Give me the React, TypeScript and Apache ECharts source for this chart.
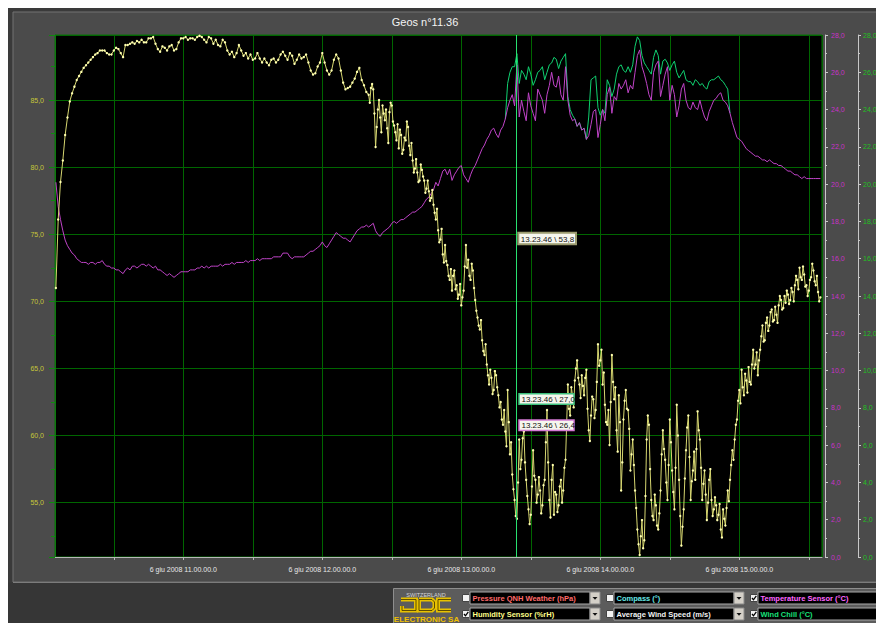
import React, { useEffect, useRef } from 'react';
import * as echarts from 'echarts';

// Minutes are counted from 10:00 on 6 June 2008
// Humidity Sensor (%rH) – left axis. First part sampled every minute from minute 5,
// second (noisier) part sampled every half minute from minute 140.
const humidityEarlyStartMinute = 5;
const humidityEarlyStepMinutes = 1;
const humidityEarly = [
  71.0, 76.1, 78.9, 80.5, 82.4,
  83.7, 84.9, 85.5, 86.0, 86.5,
  86.8, 87.1, 87.4, 87.6, 87.8,
  88.0, 88.2, 88.4, 88.5, 88.7,
  88.7, 88.7, 88.5, 88.4, 88.4,
  88.7, 88.9, 88.8, 88.5, 88.2,
  89.1, 89.1, 89.2, 89.3, 89.2,
  89.4, 89.3, 89.5, 89.3, 89.3,
  89.6, 89.6, 89.7, 89.2, 88.8,
  88.6, 89.0, 88.9, 88.7, 89.0,
  89.1, 88.7, 88.8, 89.3, 89.6,
  89.6, 89.7, 89.5, 89.6, 89.6,
  89.5, 89.7, 89.8, 89.7, 89.5,
  89.3, 89.7, 89.6, 89.2, 89.5,
  89.1, 89.0, 89.5, 89.3, 88.7,
  88.4, 88.6, 88.2, 88.5, 89.1,
  88.7, 88.3, 88.5, 88.1, 88.4,
  88.0, 88.1, 88.5, 88.1, 87.8,
  88.1, 87.8, 87.6, 88.0, 88.1,
  87.8, 88.0, 88.4, 88.6, 88.3,
  88.0, 88.5, 88.3, 87.7, 88.0,
  88.4, 88.1, 88.2, 88.4, 87.8,
  87.2, 86.9, 87.0, 87.5, 87.8,
  88.5, 87.8, 87.2, 86.9, 87.2,
  88.0, 88.4, 88.1, 87.2, 86.3,
  85.8, 85.9, 86.0, 86.3, 86.6,
  87.1, 87.4, 86.5, 86.1, 85.6,
];
const humidityLateStartMinute = 140;
const humidityLateStepMinutes = 0.5;
const humidityLate = [
  85.4, 84.8, 85.9, 86.2, 85.8, 84.0, 81.5, 83.0, 84.3, 85.0,
  83.7, 82.6, 84.6, 84.0, 83.5, 84.3, 82.9, 81.8, 84.1, 84.8,
  84.6, 83.4, 83.1, 82.6, 82.0, 83.2, 81.4, 82.8, 82.4, 81.0,
  81.3, 82.2, 82.0, 83.4, 83.0, 81.6, 80.9, 81.8, 80.5, 79.6,
  79.9, 80.6, 79.6, 78.9, 79.0, 80.2, 79.8, 79.3, 79.0, 78.1,
  78.4, 79.0, 78.2, 77.5, 77.7, 78.3, 77.2, 76.6, 76.1, 76.9,
  75.3, 74.4, 74.6, 75.4, 73.5, 72.9, 74.2, 73.0, 72.7, 71.9,
  71.6, 72.4, 70.8, 71.9, 72.3, 70.9, 71.2, 70.2, 70.5, 71.3,
  69.7, 70.3, 70.8, 72.6, 74.2, 72.5, 73.1, 71.9, 71.6, 72.8,
  72.3, 71.0, 70.1, 69.3, 68.8, 68.2, 67.9, 68.6, 67.1, 66.3,
  66.0, 66.8, 65.3, 64.5, 63.8, 64.9, 64.3, 63.1, 63.4, 64.8,
  64.5, 63.6, 63.0, 62.1, 62.5, 61.2, 60.8, 61.9, 60.3, 59.2,
  63.4, 61.0, 58.6, 59.5, 57.1, 56.0, 55.2, 54.0, 53.8, 56.5,
  59.7, 57.5, 58.2, 59.8, 60.3, 58.0, 56.7, 55.5, 54.5, 53.4,
  54.1, 56.2, 58.9, 57.0, 56.7, 55.0, 55.6, 56.9, 55.9, 54.2,
  54.8, 56.3, 56.7, 59.5, 61.9, 58.0, 55.2, 53.9, 56.7, 57.8,
  54.1, 55.8, 55.6, 54.3, 54.8, 56.2, 56.7, 55.0, 55.9, 57.6,
  58.2, 61.0, 63.8, 62.0, 61.5, 63.6, 63.0, 62.1, 64.1, 65.0,
  65.6, 64.3, 63.8, 62.8, 64.5, 63.7, 63.0, 64.3, 64.9, 62.0,
  60.4, 59.6, 61.5, 62.9, 62.7, 61.3, 61.9, 64.0, 66.8, 65.2,
  65.6, 66.4, 63.8, 64.7, 62.3, 61.0, 60.8, 61.9, 59.3, 62.5,
  66.0, 64.0, 62.7, 63.6, 60.4, 58.8, 63.0, 61.0, 55.9, 58.0,
  61.2, 62.6, 63.4, 62.0, 61.9, 60.5, 57.4, 58.6, 59.7, 57.8,
  55.9, 54.6, 53.0, 51.9, 51.1, 52.5, 53.7, 51.6, 52.2, 55.5,
  59.7, 61.5, 60.8, 57.5, 55.2, 54.0, 53.7, 55.6, 54.8, 53.3,
  53.0, 54.2, 55.9, 58.6, 60.4, 59.0, 58.2, 56.5, 55.2, 57.8,
  61.2, 59.5, 57.4, 55.8, 54.5, 57.6, 62.3, 60.0, 56.7, 54.0,
  51.8, 53.2, 54.5, 56.8, 58.9, 60.6, 61.5, 58.4, 55.2, 56.6,
  57.4, 58.8, 56.7, 59.0, 61.8, 60.4, 59.7, 57.6, 55.2, 56.4,
  57.4, 55.6, 53.7, 55.0, 56.7, 57.5, 55.2, 54.0, 54.5, 55.4,
  54.8, 53.7, 54.1, 54.9, 53.0, 52.4, 54.5, 53.8, 53.3, 54.6,
  55.9, 55.1, 56.7, 57.8, 58.9, 58.2, 59.7, 60.8, 61.2, 62.6,
  63.4, 62.4, 64.9, 63.6, 63.0, 64.6, 64.1, 63.2, 65.1, 64.0,
  63.8, 65.3, 66.4, 65.0, 65.3, 66.2, 64.5, 65.6, 66.4, 67.4,
  68.2, 67.0, 67.1, 68.4, 68.8, 67.8, 68.2, 69.2, 69.4, 68.5,
  68.6, 69.6, 69.0, 68.4, 69.7, 70.4, 70.1, 69.4, 69.5, 70.4,
  69.9, 70.8, 70.5, 69.8, 70.1, 71.0, 70.7, 70.0, 71.2, 71.9,
  71.6, 70.9, 72.5, 71.8, 71.6, 72.6, 72.0, 71.1, 71.2, 70.4,
  70.8, 71.6, 71.8, 72.8, 72.3, 71.5, 71.2, 71.9, 70.7, 70.0,
  70.3,
];

// Temperature Sensor (°C) – first right axis, one sample per minute from minute 5
const temperatureStartMinute = 5;
const temperatureStepMinutes = 1;
const temperature = [
  20.1, 18.8, 18.1, 17.5, 17.0,
  16.7, 16.5, 16.3, 16.2, 16.0,
  15.9, 15.8, 15.8, 15.8, 15.7,
  15.8, 15.8, 15.7, 15.8, 15.8,
  15.9, 15.7, 15.6, 15.6, 15.5,
  15.5, 15.4, 15.4, 15.3, 15.2,
  15.4, 15.5, 15.4, 15.6, 15.6,
  15.5, 15.6, 15.7, 15.7, 15.6,
  15.7, 15.6, 15.5, 15.6, 15.4,
  15.4, 15.3, 15.2, 15.1, 15.2,
  15.1, 15.0, 15.1, 15.2, 15.3,
  15.3, 15.3, 15.3, 15.4, 15.4,
  15.4, 15.5, 15.5, 15.6, 15.5,
  15.6, 15.5, 15.6, 15.6, 15.6,
  15.6, 15.7, 15.6, 15.7, 15.7,
  15.7, 15.8, 15.7, 15.8, 15.8,
  15.8, 15.8, 15.9, 15.8, 15.9,
  15.9, 15.9, 16.0, 15.9, 16.0,
  16.0, 16.0, 16.0, 16.0, 16.1,
  16.1, 16.1, 16.1, 16.3, 16.3,
  16.3, 16.1, 16.0, 16.1, 16.1,
  16.1, 16.1, 16.1, 16.2, 16.3,
  16.4, 16.4, 16.5, 16.6, 16.7,
  16.9, 16.7, 16.6, 16.8, 17.0,
  17.2, 17.4, 17.3, 17.2, 17.1,
  17.1, 17.0, 16.9, 17.1, 17.3,
  17.5, 17.6, 17.7, 17.7, 17.8,
  17.7, 17.8, 17.9, 17.5, 17.3,
  17.2, 17.4, 17.5, 17.6, 17.7,
  17.9, 18.0, 17.9, 18.0, 18.1,
  18.1, 18.2, 18.3, 18.4, 18.5,
  18.5, 18.6, 18.7, 18.8, 19.0,
  19.2, 19.3, 19.5, 19.7, 20.1,
  19.9, 20.3, 20.7, 20.8, 20.5,
  20.8, 20.2, 20.5, 20.7, 20.9,
  21.0, 20.5, 20.3, 20.1, 20.5,
  20.8, 21.0, 21.3, 21.6, 21.9,
  22.1, 22.4, 22.6, 22.9, 23.0,
  22.7, 22.5, 22.9, 23.1, 23.5,
  24.1, 24.5, 24.8, 24.2, 26.4,
  23.6, 24.5, 23.9, 23.4, 24.9,
  24.2, 23.8, 23.4, 25.1, 24.8,
  24.5, 23.8, 24.8, 25.3, 26.0,
  25.3, 25.2, 25.8, 24.8, 24.5,
  26.3, 24.5, 23.7, 23.4, 23.5,
  23.1, 23.3, 22.9, 23.0, 22.4,
  22.6, 23.2, 23.9, 24.0, 22.5,
  23.2, 24.0, 23.4, 24.8, 25.2,
  23.8, 24.7, 24.5, 25.4, 25.1,
  25.3, 25.6, 24.9, 25.3, 25.1,
  26.0, 26.9, 27.2, 26.3, 25.9,
  25.4, 24.8, 24.5, 26.0, 26.4,
  26.6, 24.7, 25.3, 25.9, 26.3,
  24.5, 25.3, 24.8, 23.6, 24.2,
  25.1, 25.4, 24.5, 24.1, 24.0,
  24.4, 24.1, 24.0, 24.5, 24.0,
  23.6, 23.4, 23.9, 24.2, 24.5,
  24.6, 24.8, 24.9, 24.5, 24.4,
  24.2, 23.8, 23.3, 22.9, 22.5,
  22.4, 22.3, 22.1, 21.9, 21.8,
  21.7, 21.6, 21.5, 21.5, 21.4,
  21.3, 21.3, 21.2, 21.3, 21.2,
  21.1, 21.1, 21.0, 21.0, 20.9,
  20.8, 20.7, 20.7, 20.6, 20.5,
  20.5, 20.4, 20.3, 20.4, 20.3,
  20.3, 20.3, 20.3, 20.3, 20.3,
  20.3,
];

// Wind Chill (°C) – second right axis, visible where it departs from the temperature
const windChillStartMinute = 199;
const windChillStepMinutes = 1;
const windChill = [
  23.5,
  25.4, 26.0, 26.3, 26.3, 27.0,
  25.4, 26.1, 25.9, 25.6, 26.3,
  25.9, 25.3, 25.6, 26.0, 26.1,
  26.3, 25.6, 26.0, 26.4, 26.5,
  26.8, 26.7, 26.2, 26.6, 26.8,
  27.0, 24.7, 24.0, 23.7, 23.5,
  23.1, 23.3, 22.9, 23.0, 22.4,
  23.6, 25.6, 25.7, 25.8, 24.1,
  23.7, 24.0, 23.8, 25.6, 25.3,
  24.7, 25.1, 25.9, 26.3, 26.4,
  26.1, 26.0, 26.3, 26.0, 26.4,
  27.4, 27.9, 27.7, 26.9, 26.5,
  26.3, 26.1, 25.9, 26.8, 27.2,
  26.9, 25.9, 26.6, 26.7, 26.5,
  26.1, 26.4, 26.6, 26.0, 25.7,
  25.9, 26.1, 25.6, 25.5, 25.5,
  25.3, 25.6, 25.5, 25.3, 25.4,
  25.2, 25.1, 25.5, 25.6, 25.6,
  25.7, 25.8, 25.6, 25.5, 25.3,
  25.1, 23.8,
];

const axisStartMinute = 4.62;
const axisEndMinute = 335.7;
const humidityMin = 50.95;
const humidityMax = 89.85;
const rightAxisMin = 0;
const rightAxisMax = 28;
const rightAxisStep = 2;
const dateLabel = '6 giu 2008';
const baseHour = 10;

const cursorMinute = 203.77; // 13.23.46
const cursorTexts = ['13.23.46 \\ 53,8', '13.23.46 \\ 27,0', '13.23.46 \\ 26,4'];

const titleText = 'Geos n°11.36';
const legendNames = [
  'Pressure QNH Weather (hPa)', 'Compass (°)', 'Temperature Sensor (°C)',
  'Humidity Sensor (%rH)', 'Average Wind Speed (m/s)', 'Wind Chill (°C)',
];
const legendChecked = [false, false, true, true, false, true];

const FONT = '"Liberation Sans", Arial, sans-serif';
const fmtComma = (v: number) => v.toFixed(1).replace('.', ',');
const toPairs = (values: number[], start: number, step: number) => values.map((v, i) => [start + i * step, v]);

export default function App() {
  const ref = useRef<HTMLDivElement>(null);

  useEffect(() => {
    if (!ref.current) return;
    const chart = echarts.init(ref.current, null, { renderer: 'svg' });

    const humidityData = [
      ...toPairs(humidityEarly, humidityEarlyStartMinute, humidityEarlyStepMinutes),
      ...toPairs(humidityLate, humidityLateStartMinute, humidityLateStepMinutes),
    ];
    const temperatureData = toPairs(temperature, temperatureStartMinute, temperatureStepMinutes);
    const windChillData = toPairs(windChill, windChillStartMinute, windChillStepMinutes);

    const legendColors = ['#ff6a6a', '#66e6e6', '#ff66ff', '#ffff88', '#f2f2f2', '#18e07a'];
    const colX = [454.5, 598.5, 742.5];
    const rowY = [584, 600];
    const legendEls: any[] = [];
    legendNames.forEach((name, i) => {
      const col = i % 3;
      const row = Math.floor(i / 3);
      const bx = colX[col];
      const fy = rowY[row];
      const by = fy + 2.5;
      legendEls.push({ type: 'rect', shape: { x: bx, y: by, width: 7, height: 7 }, style: { fill: '#f2f2f2', stroke: '#444', lineWidth: 1 } });
      if (legendChecked[i]) {
        legendEls.push({ type: 'polyline', shape: { points: [[bx + 1.5, by + 3.5], [bx + 3, by + 5.3], [bx + 5.8, by + 1.4]] }, style: { stroke: '#000', lineWidth: 1.3, fill: null } });
      }
      const fx = bx + 7.5;
      legendEls.push({ type: 'rect', shape: { x: fx, y: fy, width: 120, height: 12 }, style: { fill: '#000', stroke: '#a8a8a8', lineWidth: 1 } });
      legendEls.push({ type: 'text', x: fx + 2.5, y: fy + 6.5, style: { text: name, fill: legendColors[i], font: `bold 7.5px ${FONT}`, verticalAlign: 'middle', textAlign: 'left' } });
      const dx = fx + 120;
      legendEls.push({ type: 'rect', shape: { x: dx, y: fy, width: 10, height: 12 }, style: { fill: '#d4d0c8', stroke: '#8a8a8a', lineWidth: 1 } });
      legendEls.push({ type: 'polygon', shape: { points: [[dx + 2.5, fy + 5], [dx + 7.5, fy + 5], [dx + 5, fy + 7.8]] }, style: { fill: '#111' } });
    });

    const jdcStroke = (points: number[][]) => [
      { type: 'polyline', shape: { points }, style: { stroke: '#e8c200', lineWidth: 4, fill: null, lineJoin: 'miter' } },
      { type: 'polyline', shape: { points }, style: { stroke: '#3c3000', lineWidth: 0.8, fill: null, lineJoin: 'miter' } },
    ];

    const boxes = [
      { x: 510.3, y: 224.7, w: 57.7, h: 11.6, stroke: '#9c9c70', lw: 2 },
      { x: 511, y: 385.7, w: 55, h: 10.5, stroke: '#3cc07c', lw: 1.5 },
      { x: 511, y: 412, w: 55, h: 10.5, stroke: '#d47ad4', lw: 1.5 },
    ];
    const boxEls: any[] = [];
    boxes.forEach((b, i) => {
      boxEls.push({ type: 'rect', z: 50, shape: { x: b.x, y: b.y, width: b.w, height: b.h }, style: { fill: '#f6f6ee', stroke: b.stroke, lineWidth: b.lw } });
      boxEls.push({ type: 'text', z: 51, x: b.x + 2.5, y: b.y + b.h / 2 + 0.5, style: { text: cursorTexts[i], fill: '#111', font: `8px ${FONT}`, verticalAlign: 'middle', textAlign: 'left' } });
    });

    const graphic: any[] = [
      { type: 'rect', z: -10, silent: true, shape: { x: 5, y: 4, width: 880, height: 570 }, style: { fill: '#4b4b4b', stroke: '#727272', lineWidth: 1 } },
      { type: 'rect', z: -10, silent: true, shape: { x: 0, y: 574.5, width: 876, height: 41 }, style: { fill: '#363636' } },
      { type: 'line', z: -9, silent: true, shape: { x1: 5, y1: 574.5, x2: 876, y2: 574.5 }, style: { stroke: '#7c7c7c', lineWidth: 1 } },
      { type: 'text', x: 417, y: 13.5, style: { text: titleText, fill: '#f4f4f4', font: `11px ${FONT}`, textAlign: 'center', verticalAlign: 'middle' } },
      { type: 'rect', z: -8, shape: { x: 385.5, y: 580.5, width: 500, height: 40 }, style: { fill: '#5c5c5c', stroke: '#8e8e8e', lineWidth: 1 } },
      { type: 'text', x: 418, y: 586.5, style: { text: 'SWITZERLAND', fill: '#d6d6d6', font: `5.5px ${FONT}`, textAlign: 'center', verticalAlign: 'middle' } },
      ...jdcStroke([[393, 591.5], [408, 591.5], [408, 602.5], [394, 602.5], [394, 598]]),
      ...jdcStroke([[411, 591.5], [424, 591.5], [426.5, 594], [426.5, 600], [424, 602.5], [411, 602.5], [411, 591.5]]),
      ...jdcStroke([[443, 591.5], [430, 591.5], [430, 602.5], [443, 602.5]]),
      { type: 'text', x: 418.5, y: 611.5, style: { text: 'ELECTRONIC SA', fill: '#f0c000', font: `bold 8px ${FONT}`, textAlign: 'center', verticalAlign: 'middle' } },
      ...legendEls,
      ...boxEls,
    ];

    const gridGreen = '#006600';
    const option: any = {
      animation: false,
      backgroundColor: '#3a3a3a',
      textStyle: { fontFamily: FONT },
      grid: { left: 47, right: 62, top: 27, bottom: 66, show: true, backgroundColor: '#000', borderColor: '#0b6e0b', borderWidth: 1 },
      xAxis: {
        type: 'value', min: axisStartMinute, max: axisEndMinute, splitNumber: 10, offset: 1,
        axisLine: { show: true, lineStyle: { color: '#b8b8b8', width: 1 } },
        axisTick: { show: true, length: 3, lineStyle: { color: '#b8b8b8' } },
        axisLabel: {
          color: '#e8e8e8', fontSize: 7, fontFamily: FONT, margin: 8, showMinLabel: false, showMaxLabel: false,
          formatter: (v: number) => {
            if (v > 1 && Math.abs(v % 60) < 1e-6) return `${dateLabel} ${baseHour + v / 60}.00.00.0`;
            return '';
          },
        },
        splitLine: { show: true, lineStyle: { color: gridGreen, width: 1 } },
      },
      yAxis: [
        {
          type: 'value', position: 'left', min: humidityMin, max: humidityMax, splitNumber: 8,
          axisLine: { show: true, lineStyle: { color: '#0b7a0b' } },
          axisTick: { show: true, length: 6, lineStyle: { color: '#0f8a0f' } },
          minorTick: { show: true, splitNumber: 2, length: 4, lineStyle: { color: '#0f8a0f' } },
          axisLabel: { color: '#c6c63a', fontSize: 7, fontFamily: FONT, margin: 11, showMinLabel: false, showMaxLabel: false, formatter: fmtComma },
          splitLine: { show: true, lineStyle: { color: gridGreen, width: 1 } },
        },
        {
          type: 'value', position: 'right', offset: 3, min: rightAxisMin, max: rightAxisMax, interval: rightAxisStep,
          axisLine: { show: true, lineStyle: { color: '#c8c8c8' } },
          axisTick: { show: true, length: 3, lineStyle: { color: '#c8c8c8' } },
          minorTick: { show: true, splitNumber: 2, length: 2, lineStyle: { color: '#c8c8c8' } },
          axisLabel: { color: '#c832c8', fontSize: 7, fontFamily: FONT, margin: 6, formatter: fmtComma },
          splitLine: { show: false },
        },
        {
          type: 'value', position: 'right', offset: 36, min: rightAxisMin, max: rightAxisMax, interval: rightAxisStep,
          axisLine: { show: true, lineStyle: { color: '#c8c8c8' } },
          axisTick: { show: true, length: 3, lineStyle: { color: '#c8c8c8' } },
          minorTick: { show: true, splitNumber: 2, length: 2, lineStyle: { color: '#c8c8c8' } },
          axisLabel: { color: '#22c022', fontSize: 7, fontFamily: FONT, margin: 5, formatter: fmtComma },
          splitLine: { show: false },
        },
      ],
      series: [
        {
          name: 'Wind Chill (°C)', type: 'line', yAxisIndex: 2, data: windChillData, showSymbol: false, silent: true,
          lineStyle: { color: '#10d070', width: 1 }, emphasis: { disabled: true }, z: 2,
        },
        {
          name: 'Temperature Sensor (°C)', type: 'line', yAxisIndex: 1, data: temperatureData, showSymbol: false, silent: true,
          lineStyle: { color: '#c044c8', width: 1 }, emphasis: { disabled: true }, z: 3,
        },
        {
          name: 'Humidity Sensor (%rH)', type: 'line', yAxisIndex: 0, data: humidityData, symbol: 'circle', symbolSize: 2.4, silent: true,
          lineStyle: { color: '#d6d670', width: 1 }, itemStyle: { color: '#ffffb0' }, emphasis: { disabled: true }, z: 4,
          markLine: {
            silent: true, symbol: 'none', label: { show: false },
            lineStyle: { color: '#28e070', width: 1, type: 'solid' },
            data: [{ xAxis: cursorMinute }],
          },
        },
      ],
      graphic,
    };

    chart.setOption(option);
    return () => chart.dispose();
  }, []);

  return <div ref={ref} style={{ width: 876, height: 615 }} />;
}
